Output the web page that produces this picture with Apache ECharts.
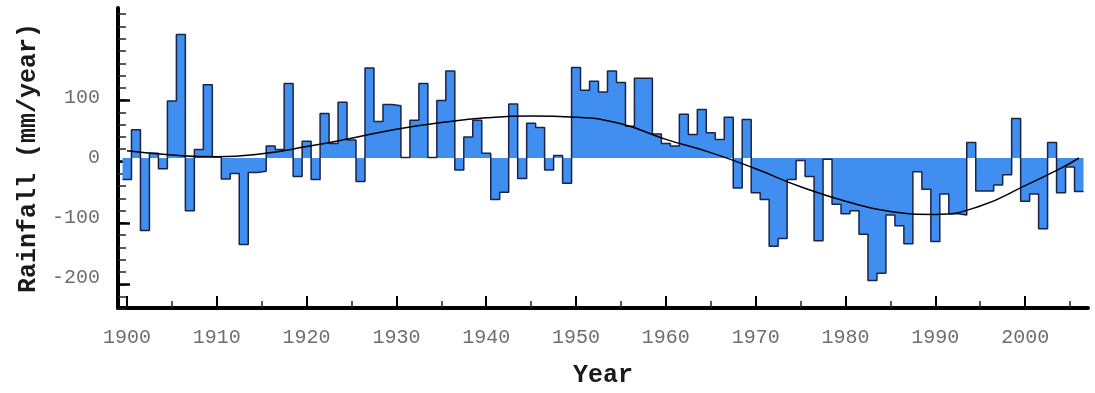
<!DOCTYPE html>
<html>
<head>
<meta charset="utf-8">
<script src="https://cdn.jsdelivr.net/npm/echarts@6.0.0/dist/echarts.min.js"></script>
<style>
  html, body { margin: 0; padding: 0; background: #fff; }
  #rain { width: 1095px; height: 393px; }
</style>
</head>
<body>
<div id="rain"></div>
<script>
// yearly rainfall anomaly, mm/year, one value per year from firstYear
const firstYear = 1900;
const rainfall = [
  -36, 47, -121, 8, -18, 95, 206, -88, 14, 122,      // 1900s
  2, -35, -26, -144, -24, -22, 20, 14, 124, -31,     // 1910s
  28, -36, 74, 24, 93, 30, -39, 150, 61, 89,         // 1920s
  87, 1, 63, 124, 1, 96, 145, -20, 35, 63,           // 1930s
  8, -69, -57, 90, -34, 58, 51, -20, 4, -42,         // 1940s
  151, 113, 128, 110, 145, 126, 53, 133, 133, 40,    // 1950s
  24, 20, 73, 39, 81, 42, 31, 68, -50, 64,           // 1960s
  -58, -69, -147, -134, -36, -4, -31, -138, -2, -77, // 1970s
  -93, -88, -127, -204, -192, -95, -113, -143, -23, -52, // 1980s
  -139, -60, -93, -95, 26, -55, -55, -45, -28, 66,   // 1990s
  -72, -60, -118, 26, -58, -15, -56                  // 2000s
];

// smooth trend curve
const trendYears  = [1900, 1905, 1910, 1915, 1920, 1925, 1930, 1935, 1940, 1945, 1950, 1955, 1960, 1965, 1970, 1975, 1980, 1985, 1990, 1995, 2000, 2004, 2006];
const trendValues = [12, 5, 2, 7, 19, 33, 48, 59, 67, 70, 68, 57, 31, 9, -18, -48, -72, -89, -94, -80, -46, -17, 0];

const xLabelYears = [1900, 1910, 1920, 1930, 1940, 1950, 1960, 1970, 1980, 1990, 2000];
const xMinorYears = [1905, 1915, 1925, 1935, 1945, 1955, 1965, 1975, 1985, 1995, 2005];
const yLabelValues = [-200, -100, 0, 100];

// plot box and value range
const W = 1095, H = 393;
const plotLeft = 118, plotRight = 1088, plotTop = 8, plotBottom = 315;
const yMin = -250, yMax = 250;
const pxPerUnit = (plotBottom - plotTop) / (yMax - yMin);

// extra grids that only carry y ticks; each is sized so its range lines up with the main one
function tickGrid(lo, hi) {
  return {
    left: plotLeft, right: W - plotRight,
    top: plotTop + (yMax - hi) * pxPerUnit,
    bottom: H - (plotBottom - (lo - yMin) * pxPerUnit)
  };
}

// step 'end' wants the left edge of every year, plus one point closing the last year
const stepData = rainfall.map((v, i) => [firstYear + i - 0.5, v]);
stepData.push([firstYear + rainfall.length - 0.5, rainfall[rainfall.length - 1]]);
const trendData = trendYears.map((y, i) => [y, trendValues[i]]);

const tickFont = { fontFamily: 'Liberation Mono', fontSize: 20, color: '#6e6e6e' };
const titleFont = { fontFamily: 'Liberation Mono', fontSize: 25, fontWeight: 'bold', color: '#1a1a1a' };
const hiddenX = (gridIndex) => ({ type: 'value', gridIndex, min: 0, max: 1, show: false });

const chart = echarts.init(document.getElementById('rain'));
chart.setOption({
  animation: false,
  backgroundColor: '#fff',
  grid: [
    { left: plotLeft, right: W - plotRight, top: plotTop, bottom: H - plotBottom },
    tickGrid(-240, 240),
    tickGrid(-200, 100)
  ],
  xAxis: [
    {
      type: 'value', min: 1899, max: 2007, position: 'bottom',
      axisLine: { onZero: false, lineStyle: { color: '#000', width: 4 } },
      axisTick: { inside: true, length: 12, customValues: xLabelYears, lineStyle: { color: '#000', width: 2 } },
      axisLabel: Object.assign({ customValues: xLabelYears, margin: 20, formatter: v => String(v) }, tickFont),
      splitLine: { show: false },
      name: 'Year', nameLocation: 'middle', nameGap: 55, nameTextStyle: titleFont
    },
    {
      type: 'value', min: 1899, max: 2007, position: 'bottom',
      axisLine: { show: false, onZero: false },
      axisTick: { inside: true, length: 7, customValues: xMinorYears, lineStyle: { color: '#222', width: 1.5 } },
      axisLabel: { show: false },
      splitLine: { show: false }
    },
    hiddenX(1),
    hiddenX(2)
  ],
  yAxis: [
    {
      type: 'value', min: yMin, max: yMax, position: 'left',
      axisLine: { show: true, onZero: false, lineStyle: { color: '#000', width: 4 } },
      axisTick: { show: false },
      axisLabel: Object.assign({ customValues: yLabelValues, margin: 18 }, tickFont),
      splitLine: { show: false },
      name: 'Rainfall (mm/year)', nameLocation: 'middle', nameGap: 76, nameRotate: 90, nameTextStyle: titleFont
    },
    {
      type: 'value', gridIndex: 1, min: -240, max: 240, interval: 20, position: 'left',
      axisLine: { show: false, onZero: false },
      axisTick: { show: true, inside: true, length: 8, lineStyle: { color: '#222', width: 1.5 } },
      axisLabel: { show: false },
      splitLine: { show: false }
    },
    {
      type: 'value', gridIndex: 2, min: -200, max: 100, interval: 100, position: 'left',
      axisLine: { show: false, onZero: false },
      axisTick: { show: true, inside: true, length: 12, lineStyle: { color: '#000', width: 2.5 } },
      axisLabel: { show: false },
      splitLine: { show: false }
    }
  ],
  series: [
    {
      name: 'rainfall', type: 'line', step: 'end', data: stepData,
      symbol: 'none',
      lineStyle: { color: '#1b2446', width: 1.5 },
      areaStyle: { color: '#3f8ef0', opacity: 1, origin: 'auto' },
      z: 2
    },
    {
      name: 'trend', type: 'line', data: trendData, smooth: true,
      symbol: 'none',
      lineStyle: { color: '#000', width: 1.5 },
      z: 3
    }
  ]
});
</script>
</body>
</html>
